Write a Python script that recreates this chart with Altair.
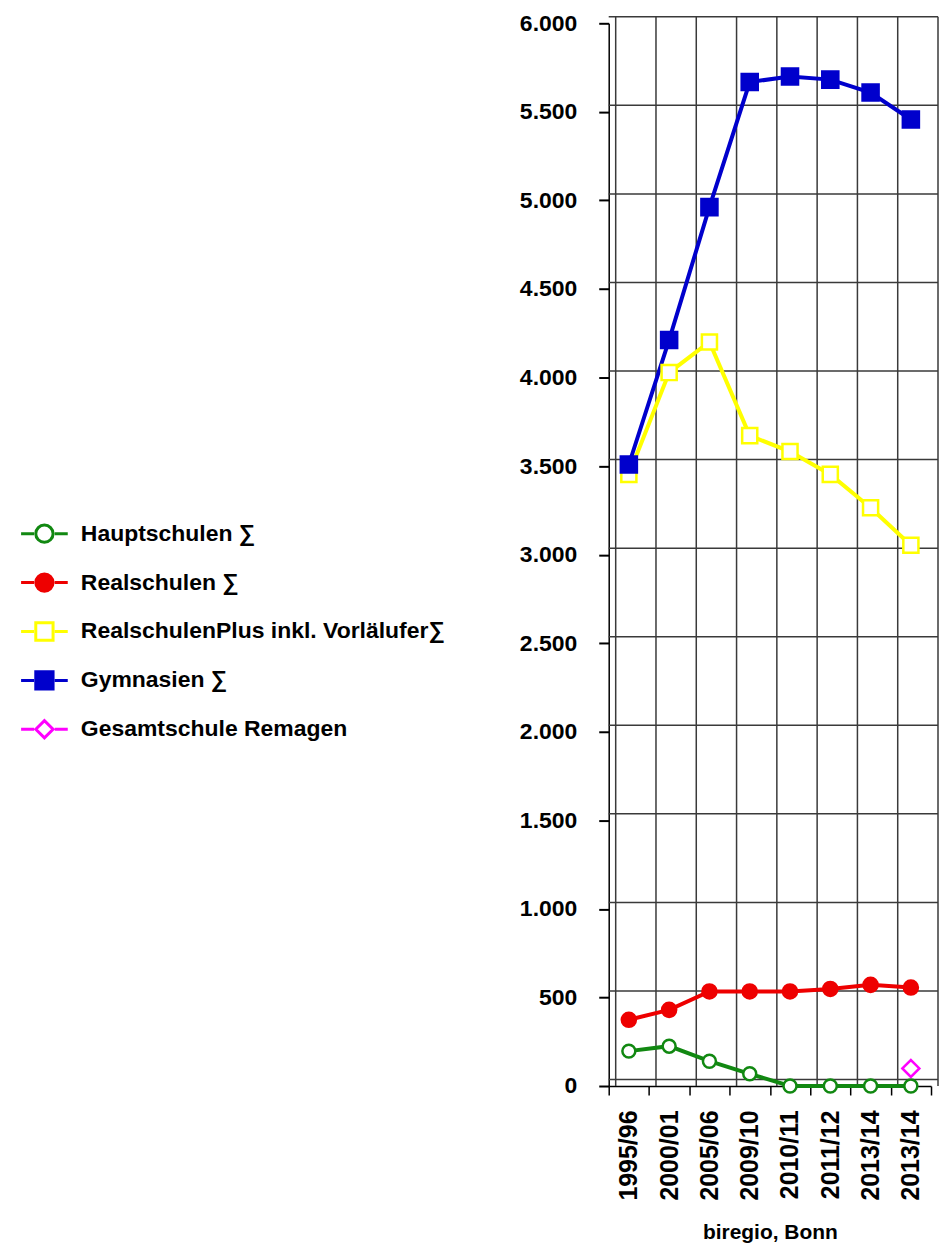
import json
import altair as alt
import pandas as pd

# ---- data ----
labels = ["1995/96", "2000/01", "2005/06", "2009/10", "2010/11", "2011/12", "2013/14", "2013/14"]
series_names = ["Hauptschulen ∑", "Realschulen ∑", "RealschulenPlus inkl. Vorlälufer∑",
                "Gymnasien ∑", "Gesamtschule Remagen"]
haupt = [197, 225, 140, 69, 0, 0, 0, 0]
real = [374, 430, 534, 534, 534, 548, 571, 556]
realplus = [3453, 4028, 4201, 3672, 3582, 3453, 3265, 3053]
gym = [3509, 4212, 4962, 5668, 5700, 5682, 5609, 5457]
gesamt = [None, None, None, None, None, None, None, 99]
y_ticks = [0, 500, 1000, 1500, 2000, 2500, 3000, 3500, 4000, 4500, 5000, 5500, 6000]

# ---- styles ----
colors = ["#118811", "#ee0000", "#ffff00", "#0000cc", "#ff00ff"]
fills = ["white", "#ee0000", "white", "#0000cc", "white"]
shapes = ["circle", "circle", "square", "square", "diamond"]
sizes = [169, 289, 272, 231, 180]
dash = "M-2.7,0H-1.2M1.2,0H2.7"
legend_paths = [
    dash + "M1,0A1,1,0,1,1,-1,0A1,1,0,1,1,1,0Z",
    dash + "M1,0A1,1,0,1,1,-1,0A1,1,0,1,1,1,0Z",
    dash + "M-1,-1H1V1H-1Z",
    dash + "M-1,-1H1V1H-1Z",
    dash + "M-1,0L0,-1L1,0L0,1Z",
]
FONT = "Liberation Sans"

rows = []
for name, vals in zip(series_names, [haupt, real, realplus, gym, gesamt]):
    for i, v in enumerate(vals):
        if v is not None:
            rows.append({"series": name, "idx": i, "value": v})
df = pd.DataFrame(rows)

xscale = alt.Scale(type="band", domain=list(range(len(labels))), paddingInner=0, paddingOuter=0)
yscale = alt.Scale(domain=[0, 6000], nice=False)

xaxis = alt.Axis(
    title="biregio, Bonn",
    labelExpr=json.dumps(labels) + "[datum.value]",
    labelAngle=270, tickBand="extent", grid=False,
    domainColor="black", domainWidth=1.5, tickColor="black", tickWidth=1.5, tickSize=9,
    labelPadding=15, labelFont=FONT, labelFontSize=25, labelFontWeight="bold", labelColor="black",
    titleFont=FONT, titleFontSize=21, titleFontWeight="bold", titleColor="black", titlePadding=21,
)
yaxis = alt.Axis(
    title=None, values=y_ticks,
    labelExpr="replace(format(datum.value, ','), ',', '.')",
    grid=False, domainColor="black", domainWidth=1.5, tickColor="black", tickWidth=2, tickSize=10,
    labelPadding=22, labelFont=FONT, labelFontSize=23, labelFontWeight="bold", labelColor="black",
)

X = alt.X("idx:O", scale=xscale, axis=xaxis)
Y = alt.Y("value:Q", scale=yscale, axis=yaxis)

grid_color = "#3a3a3a"
hgrid = alt.Chart(pd.DataFrame({"value": y_ticks})).mark_rule(
    color=grid_color, strokeWidth=1.5, xOffset=7, yOffset=-6.5).encode(y=Y)
vgrid = alt.Chart(pd.DataFrame({"idx": list(range(len(labels)))})).mark_rule(
    color=grid_color, strokeWidth=1.5, xOffset=7, yOffset=-6.5).encode(
    x=alt.X("idx:O", scale=xscale, axis=xaxis, bandPosition=0))
vedge = alt.Chart(pd.DataFrame({"idx": [len(labels) - 1]})).mark_rule(
    color=grid_color, strokeWidth=1.5, xOffset=7, yOffset=-6.5).encode(
    x=alt.X("idx:O", scale=xscale, axis=xaxis, bandPosition=1))

lines = alt.Chart(df).mark_line(strokeWidth=4).encode(
    x=X, y=Y,
    color=alt.Color("series:N", scale=alt.Scale(domain=series_names, range=colors), legend=None),
)

points = alt.Chart(df).mark_point(filled=False, opacity=1, strokeWidth=2.5).encode(
    x=X, y=Y,
    stroke=alt.Stroke("series:N", scale=alt.Scale(domain=series_names, range=colors), legend=None),
    fill=alt.Fill("series:N", scale=alt.Scale(domain=series_names, range=fills), legend=None),
    shape=alt.Shape("series:N", scale=alt.Scale(domain=series_names, range=shapes), legend=None),
    size=alt.Size("series:N", scale=alt.Scale(domain=series_names, range=sizes), legend=None),
)

leg = alt.Legend(
    title=None, orient="none", legendX=-577, legendY=500,
    labelFont=FONT, labelFontSize=23, labelFontWeight="bold", labelColor="black",
    labelOffset=25, rowPadding=18, symbolSize=300, symbolStrokeWidth=3, labelLimit=800,
)
carrier = alt.Chart(df).transform_filter("datum.value < -1").mark_point(
    filled=False, opacity=1, strokeWidth=3, size=300).encode(
    stroke=alt.Stroke("series:N", scale=alt.Scale(domain=series_names, range=colors), legend=leg),
    fill=alt.Fill("series:N", scale=alt.Scale(domain=series_names, range=fills), legend=leg),
    shape=alt.Shape("series:N", scale=alt.Scale(domain=series_names, range=legend_paths), legend=leg),
)

chart = alt.layer(hgrid, vgrid, vedge, lines, points, carrier).resolve_scale(
    stroke="independent", fill="independent", shape="independent", size="independent"
).properties(
    width=323, height=1065,
    padding={"left": 25, "top": 3, "right": 0, "bottom": 0},
    background="white",
).configure_view(stroke=None)

chart.save("out.html", embed_options={"renderer": "svg", "actions": False})
